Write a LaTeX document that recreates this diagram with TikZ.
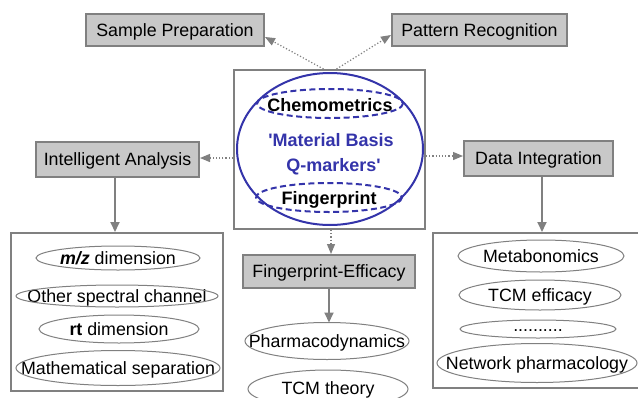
\documentclass[tikz,border=0pt]{standalone}
\usepackage{fontspec}
\setmainfont{Liberation Sans}
\usetikzlibrary{arrows.meta,calc}
\definecolor{boxfill}{RGB}{200,200,200}
\definecolor{boxline}{RGB}{128,128,128}
\definecolor{qblue}{RGB}{52,52,170}
\tikzset{
  graybox/.style={draw=boxline, fill=boxfill, line width=2pt, inner sep=0pt, text depth=0pt, font=\fontsize{17.8}{20}\selectfont},
  groupbox/.style={draw=boxline, line width=2pt, fill=white, inner sep=0pt},
  lbl/.style={inner sep=0pt, text depth=0pt, font=\fontsize{17.8}{20}\selectfont},
  ctext/.style={inner sep=0pt, text depth=0pt, font=\fontsize{18}{20}\selectfont\bfseries},
  ellline/.style={draw=boxline, line width=1pt},
  solidarr/.style={draw=boxline, line width=1.8pt, -{Triangle[length=10pt,width=9pt]}},
  dotarr/.style={draw=boxline, line width=1.2pt, dotted, -{Triangle[length=10pt,width=8pt,fill=boxline]}},
  bluedash/.style={draw=qblue, line width=2pt, dash pattern=on 6pt off 3.5pt},
}
\begin{document}
\begin{tikzpicture}[x=1pt,y=-1pt]
\clip (0,0) rectangle (638,397);
\fill[white] (0,0) rectangle (638,397);
% boxes
\node[graybox, minimum width=178pt, minimum height=32pt] (sp) at (175,30) {Sample Preparation};
\node[graybox, minimum width=175pt, minimum height=32pt] (pr) at (479.5,30) {Pattern Recognition};
\node[graybox, minimum width=163pt, minimum height=35pt] (ia) at (117.5,159.5) {Intelligent Analysis};
\node[graybox, minimum width=149pt, minimum height=35pt] (di) at (538.5,158.5) {Data Integration};
\node[graybox, minimum width=172pt, minimum height=33pt] (fe) at (329,271.5) {Fingerprint-Efficacy};
\node[groupbox, minimum width=191pt, minimum height=159pt] (cbox) at (329.5,149.5) {};
\node[groupbox, minimum width=212pt, minimum height=158pt] (lg) at (117,312) {};
\node[groupbox, minimum width=230pt, minimum height=155pt] (rg) at (548,310.5) {};
% centre
\draw[draw=qblue, line width=2pt] (330,149) ellipse [x radius=93, y radius=76];
\draw[bluedash] (330,103.5) ellipse [x radius=73, y radius=14.5];
\draw[bluedash] (329,197.5) ellipse [x radius=73, y radius=14.5];
\node[ctext] (chem) at (330,105) {Chemometrics};
\node[ctext, text=qblue] (mb1) at (331,140) {\textquotesingle Material Basis};
\node[ctext, text=qblue] (mb2) at (333.5,165) {Q-markers\textquotesingle};
\node[ctext] (fp) at (329,198) {Fingerprint};
% left items
\node[lbl] (mz) at (118,258) {\textbf{\textit{m/z}} dimension};
\node[lbl] (osc) at (117,296) {Other spectral channel};
\node[lbl] (rt) at (119,329) {\textbf{rt} dimension};
\node[lbl] (ms) at (118,368) {Mathematical separation};
\draw[ellline] (mz.center) ellipse [x radius=82, y radius=12];
\draw[ellline] (osc.center) ellipse [x radius=101, y radius=11];
\draw[ellline] (rt.center) ellipse [x radius=80, y radius=14];
\draw[ellline] (ms.center) ellipse [x radius=102, y radius=17.5];
% right items
\node[lbl] (mb) at (541,256) {Metabonomics};
\node[lbl] (tcme) at (540,295) {TCM efficacy};
\node[lbl] (dots) at (538,331) {..........};
\node[lbl] (np) at (537,363) {Network pharmacology};
\draw[ellline] (mb.center) ellipse [x radius=83, y radius=16];
\draw[ellline] (tcme.center) ellipse [x radius=81, y radius=15];
\draw[ellline] (538,329) ellipse [x radius=78, y radius=9];
\draw[ellline] (np.center) ellipse [x radius=100, y radius=19.5];
% bottom centre items
\node[lbl] (pd) at (327,341) {Pharmacodynamics};
\node[lbl] (tcmt) at (328,388) {TCM theory};
\draw[ellline] (pd.center) ellipse [x radius=82, y radius=18.5];
\draw[ellline] (328,389) ellipse [x radius=80, y radius=19];
\coordinate (pdtop) at (329,322.5);
% connectors
\draw[dotarr] ([xshift=-6pt]cbox.north) -- ([yshift=-7pt]sp.east);
\draw[dotarr] ([xshift=7pt]cbox.north) -- ([yshift=-5pt]pr.west);
\draw[dotarr] (cbox.west |- 0,158) -- (ia.east |- 0,158);
\draw[dotarr] (cbox.east |- 0,156) -- (di.west |- 0,156);
\draw[dotarr] (cbox.south -| 331,0) -- (fe.north -| 331,0);
\draw[solidarr] (fe.south) -- (pdtop);
\draw[solidarr] (ia.south -| 115,0) -- (lg.north -| 115,0);
\draw[solidarr] (di.south -| 542,0) -- (rg.north -| 542,0);
\end{tikzpicture}
\end{document}
